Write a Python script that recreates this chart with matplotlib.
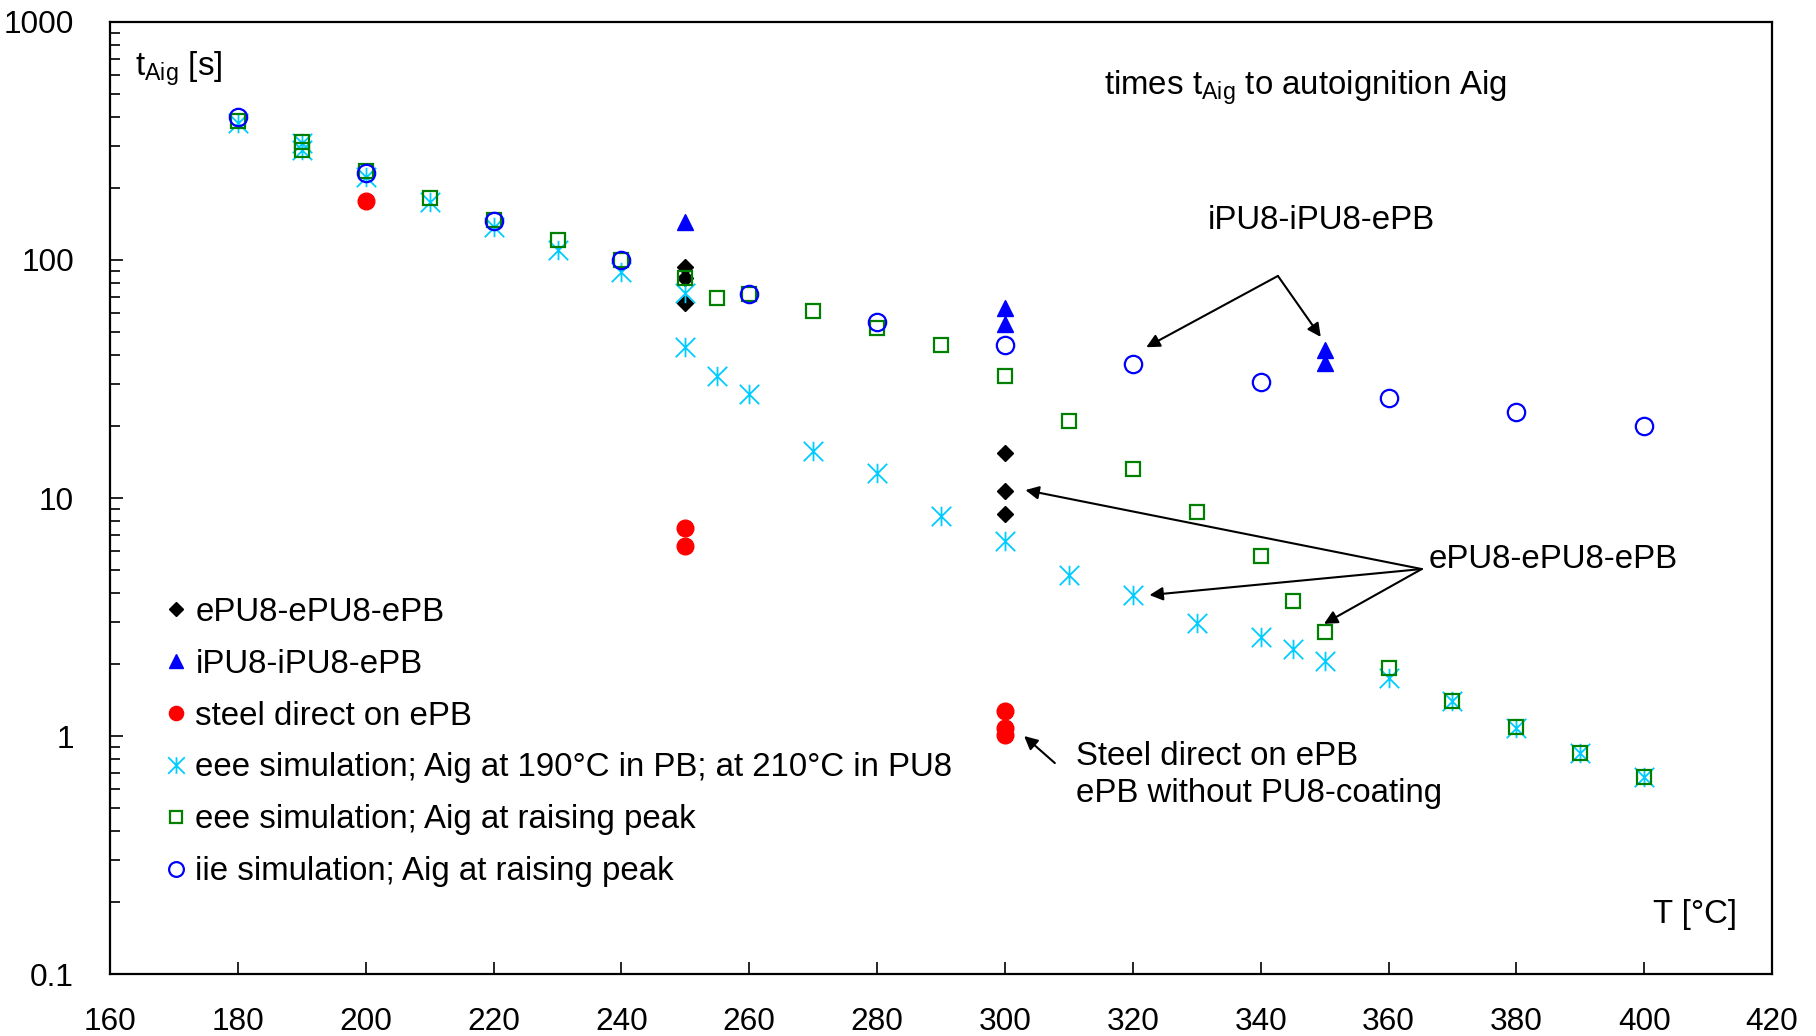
import numpy as np
import matplotlib.pyplot as plt
from matplotlib.path import Path
from matplotlib.ticker import LogLocator, NullFormatter

plt.rcParams['font.family'] = ['Liberation Sans', 'DejaVu Sans']
plt.rcParams['mathtext.fontset'] = 'custom'
plt.rcParams['mathtext.rm'] = 'Liberation Sans'
plt.rcParams['mathtext.it'] = 'Liberation Sans:italic'

# measured data (T in degC, t in s)
epu_T = [250, 250, 250, 300, 300, 300]
epu_t = [93, 84, 66, 15.5, 10.7, 8.6]

ipu_T = [250, 300, 300, 350, 350]
ipu_t = [144, 63, 54, 42, 37]

steel_T = [200, 250, 250, 300, 300, 300]
steel_t = [177, 7.5, 6.3, 1.27, 1.08, 1.01]

# simulations
eee190_T = [180, 190, 190, 200, 210, 220, 230, 240, 250, 250, 255, 260, 270, 280,
            290, 300, 310, 320, 330, 340, 345, 350, 360, 370, 380, 390, 400]
eee190_t = [376, 310, 290, 223, 175, 138, 110, 89, 73, 43, 32.6, 27.4, 15.7, 12.7,
            8.4, 6.6, 4.75, 3.9, 2.98, 2.6, 2.32, 2.07, 1.75, 1.4, 1.08, 0.85, 0.67]

eeepk_T = [180, 190, 190, 200, 210, 220, 230, 240, 250, 255, 260, 270, 280,
           290, 300, 310, 320, 330, 340, 345, 350, 360, 370, 380, 390, 400]
eeepk_t = [383, 313, 290, 236, 182, 147, 121, 100, 84, 69, 72, 61, 52,
           44, 32.6, 21.1, 13.2, 8.7, 5.7, 3.7, 2.73, 1.93, 1.41, 1.09, 0.85, 0.67]

iie_T = [180, 200, 220, 240, 260, 280, 300, 320, 340, 360, 380, 400]
iie_t = [398, 233, 146, 100, 72, 55, 44, 36.5, 30.6, 26.2, 22.9, 20.1]

yticks = [0.1, 1, 10, 100, 1000]
ylabels = ['0.1', '1', '10', '100', '1000']
xticks = list(range(160, 421, 20))

fs = 23.8

# Excel-like asterisk: vertical bar plus an X
star = Path([(0, -1), (0, 1), (-1, -1), (1, 1), (-1, 1), (1, -1)],
            [Path.MOVETO, Path.LINETO] * 3)

fig, ax = plt.subplots(figsize=(18.16, 10.36), dpi=100)
fig.subplots_adjust(left=0.0606, right=0.9758, bottom=0.0598, top=0.9788)

ax.plot(epu_T, epu_t, ls='none', marker='D', ms=8.2, color='black', mec='black',
        label='ePU8-ePU8-ePB')
ax.plot(ipu_T, ipu_t, ls='none', marker='^', ms=11.5, color='#0000FF', mec='#0000FF',
        label='iPU8-iPU8-ePB')
ax.plot(steel_T, steel_t, ls='none', marker='o', ms=12, color='#FF0000', mec='#FF0000',
        label='steel direct on ePB')
ax.plot(eee190_T, eee190_t, ls='none', marker=star, ms=14, mew=1.3, color='#00CCFF',
        label='eee simulation; Aig at 190°C in PB; at 210°C in PU8')
ax.plot(eeepk_T, eeepk_t, ls='none', marker='s', ms=10.5, mew=1.6, mfc='none', mec='#008000',
        label='eee simulation; Aig at raising peak')
ax.plot(iie_T, iie_t, ls='none', marker='o', ms=12.5, mew=1.6, mfc='none', mec='#0000FF',
        label='iie simulation; Aig at raising peak')

ax.set_yscale('log')
ax.set_xlim(160, 420)
ax.set_ylim(0.1, 1000)
ax.set_xticks(xticks)
ax.set_xticklabels([str(v) for v in xticks])
ax.set_yticks(yticks)
ax.set_yticklabels(ylabels)
ax.yaxis.set_minor_locator(LogLocator(base=10, subs=np.arange(2, 10)))
ax.yaxis.set_minor_formatter(NullFormatter())
ax.tick_params(axis='both', which='both', direction='in', labelsize=22.8, width=1.2)
ax.tick_params(axis='x', which='major', length=9, pad=24, top=False)
ax.tick_params(axis='y', which='major', length=9, pad=26, right=False)
ax.tick_params(axis='y', which='minor', length=7, right=False)
for s in ax.spines.values():
    s.set_linewidth(1.6)

ax.legend(loc='upper left', bbox_to_anchor=(0.032, 0.396), frameon=False, fontsize=fs,
          markerscale=0.85, handlelength=0.8, handletextpad=0.17, labelspacing=0.63,
          borderpad=0, borderaxespad=0)

ax.text(0.0153, 0.951, r't$_{\mathrm{Aig}}$ [s]', transform=ax.transAxes, fontsize=fs,
        ha='left', va='center')
ax.text(0.598, 0.931, r'times t$_{\mathrm{Aig}}$ to autoignition Aig', transform=ax.transAxes,
        fontsize=fs, ha='left', va='center')
ax.text(0.979, 0.063, 'T [°C]', transform=ax.transAxes, fontsize=fs, ha='right', va='center')

arr = dict(arrowstyle='-|>', color='black', lw=1.5, mutation_scale=20, shrinkA=0, shrinkB=0)

ax.text(349.5, 146, 'iPU8-iPU8-ePB', fontsize=fs, ha='center', va='center')
for tip in [(322.1, 43), (349.4, 47.5)]:
    ax.annotate('', xy=tip, xytext=(342.7, 85.7), arrowprops=arr)

ax.text(366.3, 5.5, 'ePU8-ePU8-ePB', fontsize=fs, ha='left', va='center')
for tip in [(303.2, 10.8), (322.6, 3.91), (349.9, 2.96)]:
    ax.annotate('', xy=tip, xytext=(365.2, 5.03), arrowprops=arr)

ax.text(311.1, 0.685, 'Steel direct on ePB\nePB without PU8-coating', fontsize=fs,
        ha='left', va='center', linespacing=1.22)
ax.annotate('', xy=(303.0, 1.0), xytext=(307.8, 0.77), arrowprops=arr)

fig.savefig('out.png', dpi=100)
